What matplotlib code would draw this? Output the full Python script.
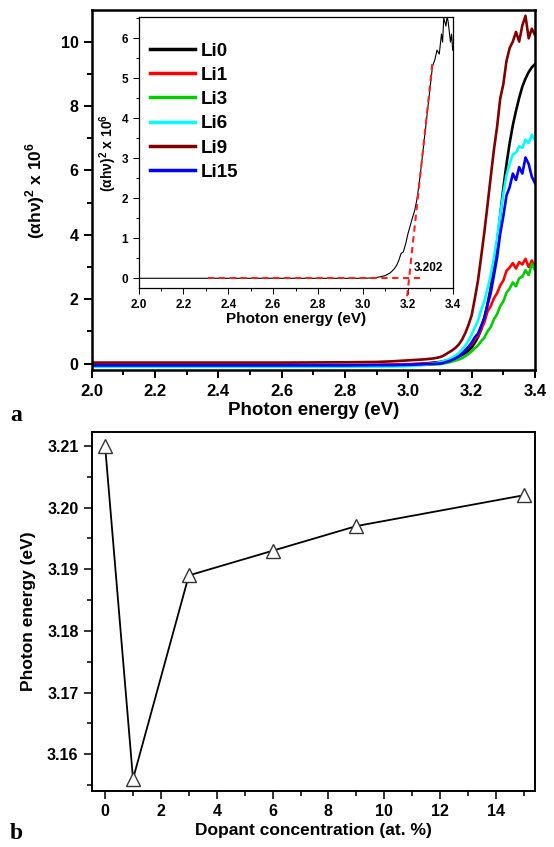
import matplotlib
matplotlib.use("Agg")
import matplotlib.pyplot as plt
from matplotlib.ticker import MultipleLocator

plt.rcParams['font.family'] = ['Liberation Sans', 'DejaVu Sans']
plt.rcParams['font.weight'] = 'bold'
plt.rcParams['mathtext.fontset'] = 'custom'
plt.rcParams['mathtext.bf'] = 'Liberation Sans:bold'
plt.rcParams['mathtext.rm'] = 'Liberation Sans:bold'

# ---------------- data: panel a ----------------
energy = [2.00, 2.20, 2.40, 2.60, 2.80, 2.90, 2.95, 3.00, 3.05, 3.08, 3.10,
          3.11, 3.12, 3.13, 3.14, 3.15, 3.16, 3.17, 3.18, 3.19, 3.20,
          3.21, 3.22, 3.23, 3.24, 3.25, 3.26, 3.27, 3.28, 3.29, 3.30,
          3.31, 3.32, 3.33, 3.34, 3.35, 3.36, 3.37, 3.38, 3.39, 3.40]

li0 = [-0.05, -0.05, -0.05, -0.05, -0.05, -0.05, -0.04, -0.03, 0.00, 0.03, 0.05,
       0.07, 0.09, 0.12, 0.15, 0.18, 0.22, 0.27, 0.33, 0.40, 0.50,
       0.65, 0.82, 1.05, 1.40, 1.85, 2.35, 3.00, 3.75, 4.60, 5.45,
       6.20, 6.85, 7.40, 7.85, 8.25, 8.60, 8.85, 9.05, 9.20, 9.30]
li1 = [-0.05, -0.05, -0.05, -0.05, -0.05, -0.04, -0.03, -0.02, 0.00, 0.01, 0.02,
       0.05, 0.08, 0.11, 0.15, 0.20, 0.27, 0.34, 0.42, 0.52, 0.60,
       0.75, 0.86, 1.08, 1.28, 1.62, 1.78, 2.02, 2.18, 2.42, 2.58,
       2.88, 2.98, 3.12, 2.95, 3.15, 3.08, 3.25, 3.00, 3.20, 3.00]
li3 = [-0.08, -0.08, -0.08, -0.08, -0.08, -0.08, -0.07, -0.06, -0.04, -0.03, -0.02,
       0.00, 0.02, 0.04, 0.07, 0.10, 0.13, 0.17, 0.23, 0.30, 0.38,
       0.48, 0.56, 0.70, 0.80, 1.00, 1.13, 1.37, 1.53, 1.78, 1.93,
       2.20, 2.33, 2.52, 2.40, 2.65, 2.70, 2.90, 2.75, 3.10, 2.90]
li6 = [-0.10, -0.10, -0.10, -0.10, -0.10, -0.09, -0.09, -0.08, -0.04, 0.00, 0.04,
       0.07, 0.10, 0.14, 0.19, 0.25, 0.33, 0.43, 0.56, 0.72, 0.90,
       1.12, 1.33, 1.67, 1.93, 2.32, 2.73, 3.27, 3.88, 4.62, 5.28,
       5.85, 6.20, 6.50, 6.55, 6.75, 6.70, 6.95, 6.85, 7.10, 6.95]
li9 = [0.03, 0.03, 0.03, 0.03, 0.04, 0.05, 0.07, 0.10, 0.13, 0.16, 0.20,
       0.24, 0.30, 0.36, 0.42, 0.50, 0.60, 0.75, 0.95, 1.20, 1.50,
       2.02, 2.58, 3.32, 4.08, 4.92, 5.78, 6.62, 7.33, 8.22, 8.68,
       9.40, 9.80, 10.00, 10.30, 10.00, 10.50, 10.80, 10.10, 10.40, 10.20]
li15 = [-0.06, -0.06, -0.06, -0.06, -0.06, -0.05, -0.05, -0.04, -0.02, -0.01, 0.00,
        0.02, 0.05, 0.08, 0.12, 0.17, 0.23, 0.30, 0.40, 0.52, 0.65,
        0.82, 0.93, 1.17, 1.43, 1.82, 2.18, 2.72, 3.28, 4.02, 4.58,
        5.22, 5.48, 5.90, 5.70, 6.10, 5.90, 6.40, 6.20, 5.80, 5.60]

series_labels = ['Li0', 'Li1', 'Li3', 'Li6', 'Li9', 'Li15']
series_colors = ['#000000', '#ff0000', '#00cc00', '#00ffff', '#800000', '#0000ff']

# inset (Li15 sample) and Tauc extrapolation
inset_energy = [2.00, 2.50, 3.00, 3.05, 3.08, 3.10, 3.11, 3.12, 3.13, 3.14, 3.15,
                3.16, 3.17, 3.18, 3.19, 3.20, 3.21, 3.22, 3.23, 3.24, 3.25,
                3.26, 3.27, 3.28, 3.29, 3.30, 3.31, 3.32, 3.33, 3.34, 3.35,
                3.355, 3.36, 3.37, 3.375, 3.38, 3.39, 3.395, 3.40]
inset_value = [0.0, 0.0, 0.0, 0.01, 0.04, 0.07, 0.10, 0.13, 0.18, 0.24, 0.32,
               0.45, 0.62, 0.66, 0.85, 1.10, 1.30, 1.50, 1.68, 1.95, 2.35,
               2.80, 3.30, 3.80, 4.30, 4.80, 5.30, 5.45, 5.70, 5.60, 6.10,
               5.90, 6.50, 6.30, 6.55, 6.40, 5.90, 6.10, 5.70]
fit_x = [3.197, 3.31]
fit_y = [-0.45, 5.40]
base_x = [2.31, 3.262]
base_y = [0.0, 0.0]
gap_value = 3.202

# ---------------- data: panel b ----------------
dopant = [0, 1, 3, 6, 9, 15]
band_gap = [3.210, 3.156, 3.189, 3.193, 3.197, 3.202]

# ---------------- figure ----------------
W, H = 554, 847
fig = plt.figure(figsize=(W / 100, H / 100), dpi=100)

def frac(l, t, r, b):
    return [l / W, 1 - b / H, (r - l) / W, (b - t) / H]

def style(ax, lw=1.6, major=6, minor=3.5):
    for s in ax.spines.values():
        s.set_linewidth(lw)
    ax.tick_params(which='both', direction='out', top=False, right=False, width=lw * 0.8)
    ax.tick_params(which='major', length=major)
    ax.tick_params(which='minor', length=minor)

# panel a
ax = fig.add_axes(frac(91.7, 10, 535, 370))
for y, lab, col in zip([li0, li1, li3, li6, li9, li15], series_labels, series_colors):
    ax.plot(energy, y, color=col, lw=1.9, label=lab)
ax.set_xlim(2.0, 3.4)
ax.set_ylim(-0.2, 10.98)
ax.xaxis.set_major_locator(MultipleLocator(0.2))
ax.xaxis.set_minor_locator(MultipleLocator(0.1))
ax.yaxis.set_major_locator(MultipleLocator(2))
ax.yaxis.set_minor_locator(MultipleLocator(1))
style(ax, lw=1.8)
ax.tick_params(axis='x', labelsize=12, pad=4)
ax.tick_params(axis='y', labelsize=11.5)
ax.set_xticklabels([f'{v:.1f}' for v in ax.get_xticks()])
ax.set_xlabel('Photon energy (eV)', fontsize=13.5, fontweight='bold', labelpad=2)
ax.set_ylabel(r'(αhν)$^{\mathbf{2}}$ x 10$^{\mathbf{6}}$', fontsize=12.5,
              fontweight='bold', labelpad=10)
fig.text(10 / W, 1 - 415 / H, 'a', fontsize=17, fontweight='bold',
         family='Liberation Serif', va='center')

# inset
axi = fig.add_axes(frac(138.5, 17.3, 452.7, 288.3))
axi.plot(inset_energy, inset_value, color='black', lw=0.8)
axi.plot(base_x, base_y, color='#ff2020', lw=1.5, ls=(0, (3, 2.2)))
axi.plot(fit_x, fit_y, color='#ff2020', lw=1.5, ls=(0, (3, 2.2)), clip_on=False)
axi.text(3.225, 0.1, f'{gap_value:.3f}', fontsize=8.5, fontweight='bold',
         ha='left', va='bottom')
axi.set_xlim(2.0, 3.4)
axi.set_ylim(-0.25, 6.52)
axi.xaxis.set_major_locator(MultipleLocator(0.2))
axi.xaxis.set_minor_locator(MultipleLocator(0.1))
axi.yaxis.set_major_locator(MultipleLocator(1))
axi.yaxis.set_minor_locator(MultipleLocator(0.5))
style(axi, lw=0.9, major=4, minor=2.5)
axi.tick_params(labelsize=8.5)
axi.set_xticklabels([f'{v:.1f}' for v in axi.get_xticks()])
axi.set_xlabel('Photon energy (eV)', fontsize=11, fontweight='bold', labelpad=1)
axi.set_ylabel(r'(αhν)$^{\mathbf{2}}$ x 10$^{\mathbf{6}}$', fontsize=10,
               fontweight='bold', labelpad=2)
handles, labels = ax.get_legend_handles_labels()
leg = axi.legend(handles, labels, loc='upper left', frameon=False, fontsize=13.5,
                 handlelength=2.4, handletextpad=0.3, labelspacing=0.38,
                 borderaxespad=0.0, bbox_to_anchor=(0.012, 0.935))
for line in leg.get_lines():
    line.set_linewidth(2.5)

# panel b
axb = fig.add_axes(frac(91.7, 431.7, 535, 790.7))
axb.plot(dopant, band_gap, color='black', lw=1.3, marker='^', ms=10,
         mfc='white', mec='#333333', mew=1.0)
axb.set_xlim(-0.48, 15.4)
axb.set_ylim(3.1541, 3.2123)
axb.xaxis.set_major_locator(MultipleLocator(2))
axb.xaxis.set_minor_locator(MultipleLocator(1))
axb.yaxis.set_major_locator(MultipleLocator(0.01))
axb.yaxis.set_minor_locator(MultipleLocator(0.005))
style(axb, lw=1.4)
axb.tick_params(axis='both', labelsize=11.5)
axb.set_yticklabels([f'{v:.2f}' for v in axb.get_yticks()])
axb.set_xlabel('Dopant concentration (at. %)', fontsize=12.5, fontweight='bold', labelpad=3)
axb.set_ylabel('Photon energy (eV)', fontsize=12.5, fontweight='bold', labelpad=8)
fig.text(10 / W, 1 - 833 / H, 'b', fontsize=17, fontweight='bold',
         family='Liberation Serif', va='center')

fig.savefig('out.png', dpi=100)
